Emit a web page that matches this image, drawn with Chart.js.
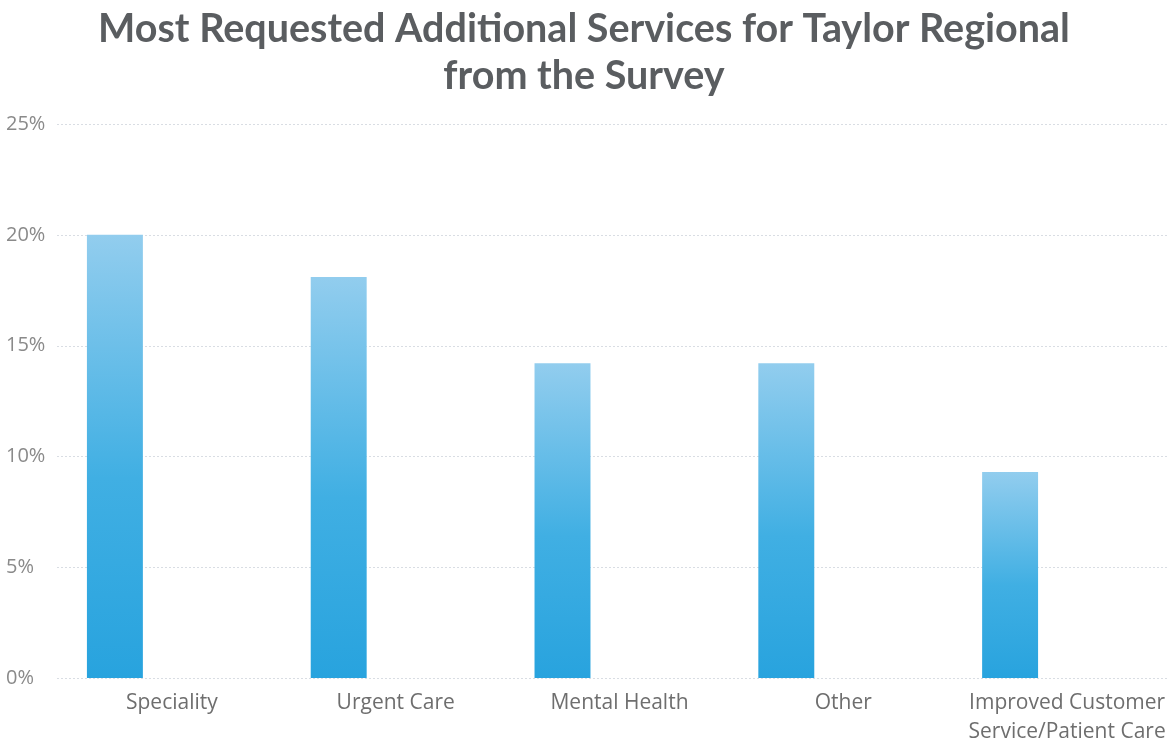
<!DOCTYPE html>
<html>
<head>
<meta charset="utf-8">
<script src="https://cdn.jsdelivr.net/npm/chart.js@4"></script>
<style>
  html, body { margin: 0; padding: 0; background: #fff; }
  #wrap { width: 1168px; height: 741px; }
</style>
</head>
<body>
<div id="wrap"><canvas id="chart" width="1168" height="741"></canvas></div>
<script>
// data
const categories = ['Speciality', 'Urgent Care', 'Mental Health', 'Other', ['Improved Customer', 'Service/Patient Care']];
const percentValues = [20, 18.1, 14.2, 14.2, 9.3];
const yTicks = [0, 5, 10, 15, 20, 25];

const titleLines = ['Most Requested Additional Services for Taylor Regional', 'from the Survey'];

// faint dotted grid, starts right of the tick labels like the original
const dottedGrid = {
  id: 'dottedGrid',
  beforeDatasetsDraw(chart) {
    const { ctx, chartArea, scales } = chart;
    ctx.save();
    ctx.strokeStyle = '#d9dde3';
    ctx.lineWidth = 1;
    ctx.setLineDash([2, 2]);
    yTicks.forEach(t => {
      const y = Math.round(scales.y.getPixelForValue(t)) + 0.5;
      ctx.beginPath();
      ctx.moveTo(chartArea.left + 54, y);
      ctx.lineTo(chart.width, y);
      ctx.stroke();
    });
    ctx.restore();
  }
};

function barGradient(c) {
  const { ctx, chartArea, scales } = c.chart;
  if (!chartArea || c.type !== 'data') return '#3aa9e0';
  const top = scales.y.getPixelForValue(c.raw);
  const bottom = scales.y.getPixelForValue(0);
  const g = ctx.createLinearGradient(0, top, 0, bottom);
  g.addColorStop(0, '#92cdee');
  g.addColorStop(0.55, '#40afe3');
  g.addColorStop(1, '#28a3de');
  return g;
}

new Chart(document.getElementById('chart'), {
  type: 'bar',
  data: {
    labels: categories,
    datasets: [{
      data: percentValues,
      backgroundColor: barGradient,
      borderWidth: 0,
      categoryPercentage: 1,
      barPercentage: 0.25,
    }],
  },
  options: {
    responsive: false,
    animation: false,
    layout: { padding: 0 },
    plugins: {
      legend: { display: false },
      tooltip: { enabled: false },
      title: {
        display: true,
        text: titleLines,
        color: '#5a5d60',
        font: { family: 'Lato', size: 39.5, weight: 'bold', lineHeight: 1.19 },
        padding: { top: 6, bottom: 24 },
      },
    },
    scales: {
      x: {
        grid: { display: false },
        border: { display: false },
        afterFit: s => { s.height = 63; },
        ticks: {
          color: '#6e6e6e',
          font: { family: 'Open Sans', size: 21, lineHeight: 1.38 },
          padding: 3,
          labelOffset: 57,
          maxRotation: 0,
          autoSkip: false,
        },
      },
      y: {
        min: 0,
        max: 25,
        grid: { display: false, drawTicks: false },
        border: { display: false },
        afterFit: s => { s.width = 3; },
        ticks: {
          stepSize: 5,
          mirror: true,
          padding: 3,
          color: '#8a8a8a',
          font: { family: 'Open Sans', size: 20 },
          callback: v => v + '%',
        },
      },
      // empty right-hand axis keeps the plot clear of the right edge
      yRight: {
        position: 'right',
        display: true,
        grid: { display: false, drawTicks: false },
        border: { display: false },
        ticks: { display: false },
        afterFit: s => { s.width = 46; },
      },
    },
  },
  plugins: [dottedGrid],
});
</script>
</body>
</html>
